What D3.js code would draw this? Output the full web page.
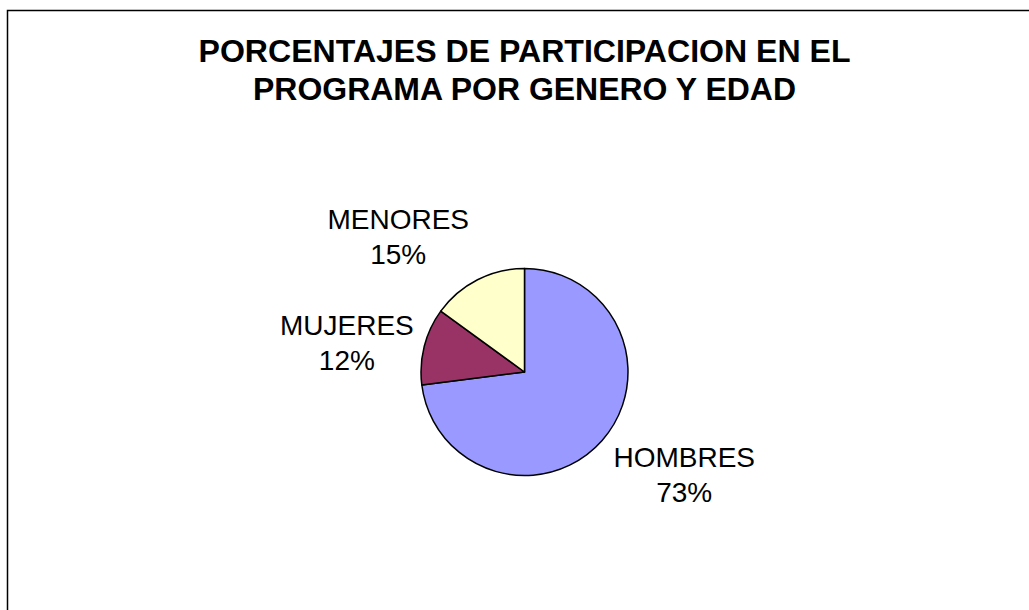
<!DOCTYPE html>
<html>
<head>
<meta charset="utf-8">
<script src="https://d3js.org/d3.v7.min.js"></script>
<style>
  html, body { margin: 0; padding: 0; background: #fff; }
  svg { display: block; }
</style>
</head>
<body>
<svg id="chart" width="1029" height="610"></svg>
<script>
const categories = ["HOMBRES", "MUJERES", "MENORES"];
const values = [73, 12, 15];
const colors = ["#9999FF", "#993366", "#FFFFCC"];
const titleLines = ["PORCENTAJES DE PARTICIPACION EN EL", "PROGRAMA POR GENERO Y EDAD"];

const svg = d3.select("#chart");
const W = 1029, H = 610;
const cx = 524.5, cy = 372, R = 103.5;
const font = "'Liberation Sans', Arial, Helvetica, sans-serif";

// frame
svg.append("path")
  .attr("d", `M7.5,${H + 5}V10.5H${W + 5}`)
  .attr("fill", "none")
  .attr("stroke", "#000")
  .attr("stroke-width", 1.5);

// title
const titleWidths = [652, 543];
svg.append("text")
  .attr("text-anchor", "middle")
  .attr("font-family", font)
  .attr("font-weight", "bold")
  .attr("font-size", 31)
  .selectAll("tspan")
  .data(titleLines)
  .join("tspan")
  .attr("x", cx)
  .attr("y", (d, i) => 61.5 + i * 38)
  .attr("textLength", (d, i) => titleWidths[i])
  .attr("lengthAdjust", "spacingAndGlyphs")
  .text(d => d);

const data = categories.map((c, i) => ({ name: c, value: values[i], color: colors[i] }));
const pie = d3.pie().sort(null).value(d => d.value);
const arcs = pie(data);
const arc = d3.arc().innerRadius(0).outerRadius(R);

const g = svg.append("g").attr("transform", `translate(${cx},${cy})`);
g.selectAll("path")
  .data(arcs)
  .join("path")
  .attr("d", arc)
  .attr("fill", d => d.data.color)
  .attr("stroke", "#000")
  .attr("stroke-width", 1.5)
  .attr("stroke-linejoin", "round");

// label placement: radial distance and angle tweak per slice (layout only)
const labelRadius = [190, 180, 185];
const labelAngleShift = [-0.15, -0.09, -0.28];
const total = d3.sum(values);
g.selectAll("text.lbl")
  .data(arcs)
  .join("text")
  .attr("class", "lbl")
  .attr("text-anchor", "middle")
  .attr("font-family", font)
  .attr("font-size", 28)
  .attr("fill", "#000")
  .each(function(d, i) {
    const a = (d.startAngle + d.endAngle) / 2 + labelAngleShift[i];
    const x = Math.sin(a) * labelRadius[i];
    const y = -Math.cos(a) * labelRadius[i];
    const t = d3.select(this);
    t.append("tspan").attr("x", x).attr("y", y - 8).text(d.data.name);
    t.append("tspan").attr("x", x).attr("y", y + 27)
      .text(Math.round(d.data.value / total * 100) + "%");
  });
</script>
</body>
</html>
